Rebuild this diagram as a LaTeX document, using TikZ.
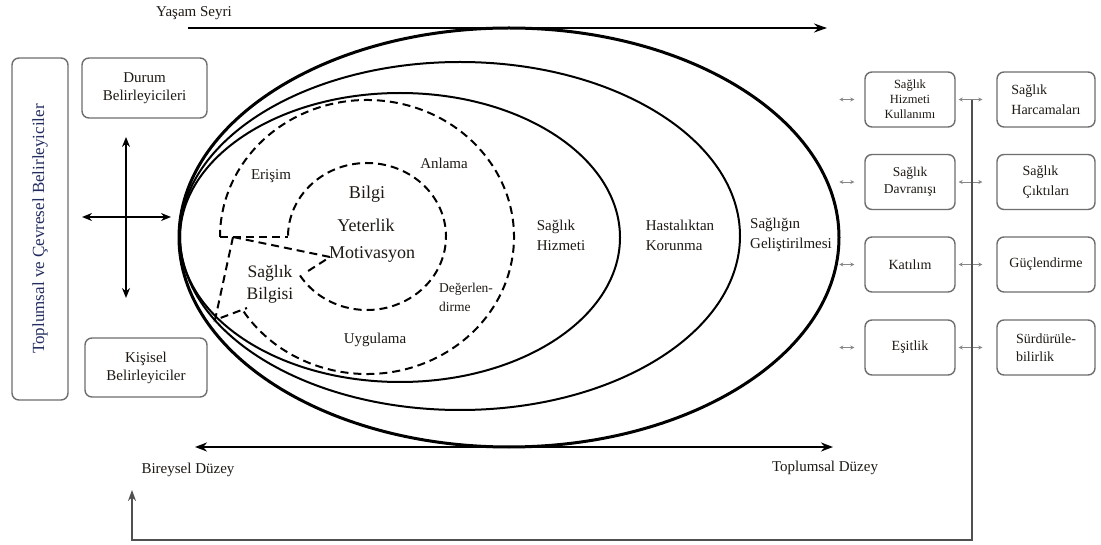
\documentclass[tikz,border=0pt]{standalone}
\usepackage{fontspec}
\setmainfont{Liberation Serif}
\usetikzlibrary{arrows.meta}
\definecolor{txt}{RGB}{30,25,20}
\definecolor{navy}{RGB}{35,45,95}
\definecolor{boxgray}{RGB}{110,110,110}
\definecolor{arrgray}{RGB}{135,135,135}
\definecolor{fbgray}{RGB}{80,80,80}
\begin{document}
\begin{tikzpicture}[x=1pt,y=-1pt,
  lbl/.style={inner sep=0pt, text=txt, font=\fontsize{15}{18}\selectfont, align=left},
  biglbl/.style={inner sep=0pt, text=txt, font=\fontsize{18}{21}\selectfont, align=center},
  smlbl/.style={inner sep=0pt, text=txt, font=\fontsize{13.5}{16}\selectfont, align=left},
  rbox/.style={draw=boxgray, line width=1.4pt, rounded corners=7pt, inner sep=2pt, text=txt, align=center},
  solidE/.style={draw=black, line width=2pt},
  dashE/.style={draw=black, line width=2pt, dash pattern=on 8pt off 5pt},
  sarr/.style={draw=arrgray, line width=0.9pt, {Stealth[length=4pt,width=4pt]}-{Stealth[length=4pt,width=4pt]}},
  crossarr/.style={draw=black, line width=1.5pt, {Stealth[length=10pt,width=8pt]}-{Stealth[length=10pt,width=8pt]}},
  bigarr/.style={draw=black, line width=2.2pt}
]
\useasboundingbox (0,0) rectangle (1101,545);
\fill[white] (0,0) rectangle (1101,545);

% ---- ellipses ----
\draw[solidE, line width=3pt] (509,237.5) ellipse [x radius=330, y radius=209.5];
\draw[solidE] (460,236) ellipse [x radius=280, y radius=174];
\draw[solidE] (400,237.5) ellipse [x radius=220, y radius=144.5];

% ---- dashed health literacy part ----
\draw[dashE] ([shift={(147:147 and 137)}]367,237) arc[start angle=147, end angle=-180, x radius=147, y radius=137];
\draw[dashE] ([shift={(148:79 and 73.5)}]367,236.5) arc[start angle=148, end angle=-180, x radius=79, y radius=73.5];
\draw[dashE] (220,237) -- (288,237);
\draw[dashE] (233,237) -- (330,257) -- (305,273);
\draw[dashE] (233,237) -- (215,320) -- (247,308);

% ---- texts inside ----
\node[lbl] (erisim) at (271,176) {Erişim};
\node[lbl] (anlama) at (444,163) {Anlama};
\node[biglbl] (bilgi) at (367,194) {Bilgi};
\node[biglbl] (yeterlik) at (366,225) {Yeterlik};
\node[biglbl] (motiv) at (372,254) {Motivasyon};
\node[biglbl, font=\fontsize{17.5}{22}\selectfont] (sbilgi) at (270,284) {Sağlık\\Bilgisi};
\node[smlbl, font=\fontsize{13.5}{19}\selectfont] (degerl) at (466,297) {Değerlen-\\dirme};
\node[lbl] (uyg) at (375,340) {Uygulama};
\node[lbl, font=\fontsize{15}{20}\selectfont] (shiz) at (561,235) {Sağlık\\Hizmeti};
\node[lbl, font=\fontsize{15}{20}\selectfont] (hast) at (680,235) {Hastalıktan\\Korunma};
\node[lbl, font=\fontsize{15}{20}\selectfont] (sgel) at (791,235) {Sağlığın\\Geliştirilmesi};

% ---- top and bottom arrows ----
\node[lbl] (yasam) at (194,13) {Yaşam Seyri};
\coordinate (ys1) at (188,28);
\coordinate (ys2) at (827,28);
\draw[bigarr, -{Stealth[length=13pt,width=9pt]}] (ys1) -- (ys2);

\coordinate (bd1) at (195,447);
\coordinate (bd2) at (833,447);
\draw[bigarr, line width=2.5pt, {Stealth[length=12pt,width=9pt]}-{Stealth[length=12pt,width=9pt]}] (bd1) -- (bd2);
\node[lbl] (birey) at (188,470) {Bireysel Düzey};
\node[lbl] (toplum) at (825,468) {Toplumsal Düzey};

% ---- left side ----
\node[rbox, rotate=90, minimum width=342pt, minimum height=56pt, text=navy,
      font=\fontsize{17}{20}\selectfont] (soc) at (40,229) {Toplumsal ve Çevresel Belirleyiciler};
\node[rbox, minimum width=125pt, minimum height=60pt, font=\fontsize{15}{17.5}\selectfont] (durum) at (144.5,88) {Durum\\Belirleyicileri};
\node[rbox, minimum width=122pt, minimum height=59pt, font=\fontsize{15}{18}\selectfont] (kisisel) at (146,367.5) {Kişisel\\Belirleyiciler};
\coordinate (vt) at (126,137);
\coordinate (vb) at (126,298);
\coordinate (hl) at (82,217);
\coordinate (hr) at (171,217);
\draw[crossarr] (vt) -- (vb);
\draw[crossarr] (hl) -- (hr);

% ---- right side boxes ----
\node[rbox, minimum width=90pt, minimum height=55pt, font=\fontsize{12.5}{15}\selectfont] (c11) at (910,99.5) {Sağlık\\Hizmeti\\Kullanımı};
\node[rbox, minimum width=90pt, minimum height=55pt, font=\fontsize{13.5}{17}\selectfont] (c12) at (910,182) {Sağlık\\Davranışı};
\node[rbox, minimum width=90pt, minimum height=55pt, font=\fontsize{14}{17}\selectfont] (c13) at (910,264.5) {Katılım};
\node[rbox, minimum width=90pt, minimum height=55pt, font=\fontsize{14}{17}\selectfont] (c14) at (910,347.5) {Eşitlik};

\node[rbox, minimum width=98pt, minimum height=55pt, align=left, font=\fontsize{14}{20}\selectfont] (c21) at (1046,99.5) {Sağlık\\Harcamaları};
\node[rbox, minimum width=98pt, minimum height=55pt, align=left, font=\fontsize{14}{20}\selectfont] (c22) at (1046,182) {Sağlık\\Çıktıları};
\node[rbox, minimum width=98pt, minimum height=55pt, font=\fontsize{14}{17}\selectfont] (c23) at (1046,264.5) {Güçlendirme};
\node[rbox, minimum width=98pt, minimum height=55pt, align=left, font=\fontsize{14}{18}\selectfont] (c24) at (1046,347.5) {Sürdürüle-\\bilirlik};

\foreach \r in {1,2,3,4}{
  \draw[sarr] ([xshift=3pt]c1\r.east) -- ([xshift=-14pt]c2\r.west);
  \draw[sarr] ([xshift=-25pt]c1\r.west) -- ([xshift=-10pt]c1\r.west);
}

% ---- feedback loop ----
\coordinate (fbtop) at (972,100);
\coordinate (fbbr) at (972,540);
\coordinate (fbbl) at (132,540);
\coordinate (fbend) at (132,490);
\draw[draw=fbgray, line width=1.5pt, -{Stealth[length=11pt,width=8pt]}] (fbtop) -- (fbbr) -- (fbbl) -- (fbend);
\end{tikzpicture}
\end{document}
